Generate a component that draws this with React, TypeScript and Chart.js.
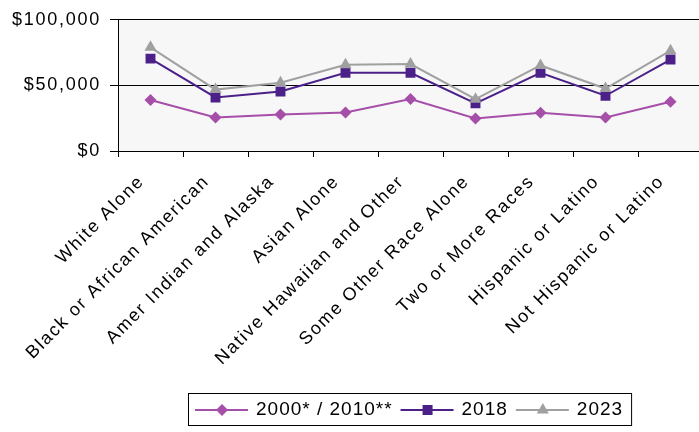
import React, { useEffect, useRef } from "react";
import { Chart, registerables } from "chart.js";

Chart.register(...registerables);

const categories = [
  "White Alone",
  "Black or African American",
  "Amer Indian and Alaska",
  "Asian Alone",
  "Native Hawaiian and Other",
  "Some Other Race Alone",
  "Two or More Races",
  "Hispanic or Latino",
  "Not Hispanic or Latino",
];
const seriesNames = ["2000* / 2010**", "2018", "2023"];
const values2000 = [38900, 25500, 27800, 29300, 39600, 24800, 29100, 25500, 37600];
const values2018 = [70400, 40800, 45300, 59600, 59600, 36300, 59600, 42100, 69700];
const values2023 = [79000, 46800, 52000, 65800, 66300, 39500, 65200, 47600, 76500];
const yTickValues = [0, 50000, 100000];

const colors = ["#A64FA8", "#4C2089", "#A0A0A0"];
const markers = ["rectRot", "rect", "triangle"];

const FONT = "'Liberation Sans', Arial, sans-serif";

function drawMarker(ctx: CanvasRenderingContext2D, style: string, x: number, y: number, color: string) {
  ctx.save();
  ctx.fillStyle = color;
  ctx.beginPath();
  if (style === "rectRot") {
    const r = 6;
    ctx.moveTo(x, y - r);
    ctx.lineTo(x + r, y);
    ctx.lineTo(x, y + r);
    ctx.lineTo(x - r, y);
  } else if (style === "rect") {
    const s = 5;
    ctx.rect(x - s, y - s, 2 * s, 2 * s);
  } else {
    const r = 7;
    ctx.moveTo(x, y - r);
    ctx.lineTo(x + r * Math.sin((2 * Math.PI) / 3), y + r / 2);
    ctx.lineTo(x - r * Math.sin((2 * Math.PI) / 3), y + r / 2);
  }
  ctx.closePath();
  ctx.fill();
  ctx.restore();
}

const bgPlugin = {
  id: "plotBg",
  beforeLayout(chart: any) {
    (chart.ctx as any).letterSpacing = "1.75px";
  },
  beforeDraw(chart: any) {
    const { ctx, chartArea } = chart;
    ctx.save();
    ctx.fillStyle = "#F7F7F7";
    ctx.fillRect(chartArea.left, chartArea.top, chartArea.right - chartArea.left, chartArea.bottom - chartArea.top);
    ctx.restore();
    (ctx as any).letterSpacing = "1.75px";
  },
  beforeDatasetsDraw(chart: any) {
    (chart.ctx as any).letterSpacing = "0px";
  },
  afterDraw(chart: any) {
    const ctx: CanvasRenderingContext2D = chart.ctx;
    ctx.save();
    (ctx as any).letterSpacing = "1px";
    ctx.font = `19px ${FONT}`;
    ctx.textBaseline = "middle";
    ctx.textAlign = "left";
    const boxLeft = 188;
    const boxTop = 393;
    const boxH = 32;
    const cy = boxTop + boxH / 2 + 1;
    let x = boxLeft + 7;
    const datasets = chart.data.datasets;
    datasets.forEach((ds: any, i: number) => {
      ctx.strokeStyle = colors[i];
      ctx.lineWidth = 2;
      ctx.beginPath();
      ctx.moveTo(x, cy);
      ctx.lineTo(x + 53, cy);
      ctx.stroke();
      drawMarker(ctx, markers[i], x + 27, cy, colors[i]);
      x += 61;
      ctx.fillStyle = "#000";
      ctx.fillText(ds.label, x, cy);
      x += ctx.measureText(ds.label).width + 8;
    });
    const boxRight = x;
    ctx.strokeStyle = "#000";
    ctx.lineWidth = 1;
    ctx.strokeRect(boxLeft + 0.5, boxTop + 0.5, boxRight - boxLeft, boxH);
    ctx.restore();
  },
};

export default function App() {
  const canvasRef = useRef<HTMLCanvasElement | null>(null);

  useEffect(() => {
    const canvas = canvasRef.current;
    if (!canvas) return;
    const values = [values2000, values2018, values2023];
    const chart = new Chart(canvas, {
      type: "line",
      data: {
        labels: categories,
        datasets: seriesNames.map((name, i) => ({
          label: name,
          data: values[i],
          borderColor: colors[i],
          backgroundColor: colors[i],
          borderWidth: 2,
          pointStyle: markers[i] as any,
          pointRadius: i === 0 ? 6 : 7,
          pointBorderWidth: 0,
          pointBackgroundColor: colors[i],
          tension: 0,
          fill: false,
          order: 2 - i,
        })),
      },
      options: {
        responsive: false,
        animation: false,
        devicePixelRatio: 1,
        layout: { padding: { left: 0, top: 18, right: 37, bottom: 0 } },
        plugins: {
          legend: { display: false },
          tooltip: { enabled: false },
        },
        scales: {
          x: {
            offset: true,
            grid: {
              offset: true,
              drawOnChartArea: false,
              drawTicks: true,
              tickLength: 6,
              color: "#000",
              lineWidth: 1,
            },
            border: { display: true, color: "#000", width: 1 },
            ticks: {
              autoSkip: false,
              minRotation: 45,
              maxRotation: 45,
              padding: 14,
              labelOffset: -9,
              color: "#000",
              font: { family: FONT, size: 18 },
            },
            afterFit(scale: any) {
              scale.height = 432 - 151;
            },
          },
          y: {
            min: 0,
            max: 100000,
            afterBuildTicks(scale: any) {
              scale.ticks = yTickValues.map((v) => ({ value: v }));
            },
            grid: {
              color: "#000",
              lineWidth: 1,
              drawTicks: true,
              tickLength: 8,
            },
            border: { display: true, color: "#000", width: 1 },
            ticks: {
              padding: 9,
              color: "#000",
              font: { family: FONT, size: 18 },
              callback: (v: any) => "$" + Number(v).toLocaleString("en-US"),
            },
            afterFit(scale: any) {
              scale.width = 118;
            },
          },
        },
      },
      plugins: [bgPlugin],
    });
    return () => chart.destroy();
  }, []);

  return (
    <div style={{ position: "absolute", left: 0, top: 0, width: 699, height: 432, overflow: "hidden", background: "#fff" }}>
      <canvas ref={canvasRef} width={740} height={432} style={{ display: "block", width: 740, height: 432 }} />
    </div>
  );
}
